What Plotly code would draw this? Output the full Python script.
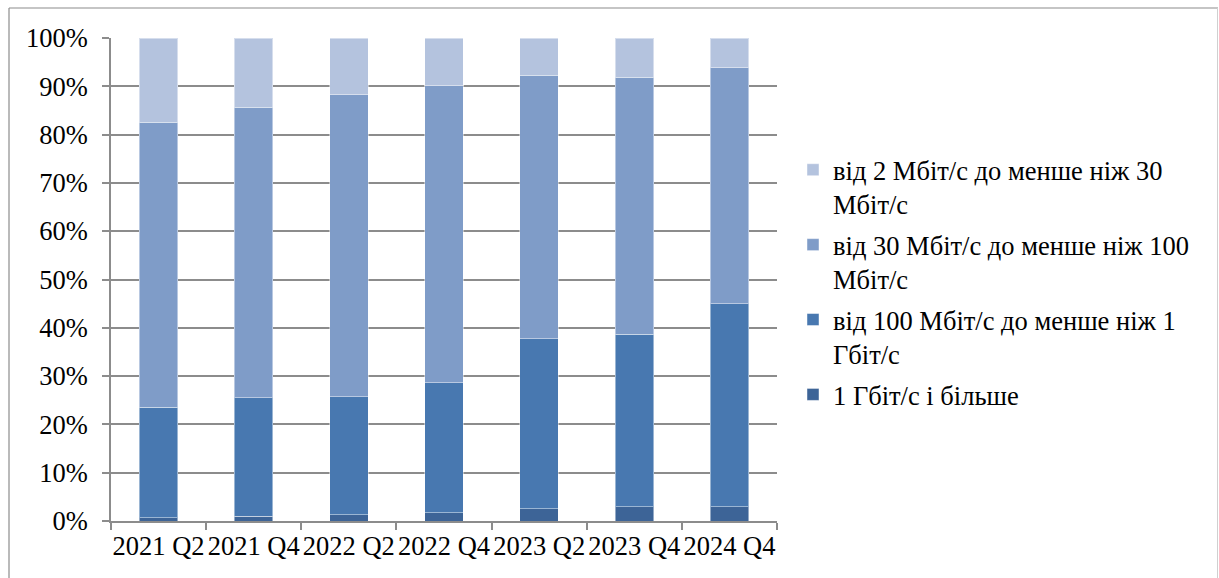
import plotly.graph_objects as go

categories = ["2021 Q2", "2021 Q4", "2022 Q2", "2022 Q4", "2023 Q2", "2023 Q4", "2024 Q4"]
gbit_1_plus = [0.7, 1.0, 1.3, 1.7, 2.5, 2.9, 2.9]
mbit_100_to_1g = [22.9, 24.5, 24.4, 26.9, 35.2, 35.8, 42.1]
mbit_30_to_100 = [59.0, 60.2, 62.5, 61.5, 54.6, 53.2, 48.8]
mbit_2_to_30 = [17.4, 14.3, 11.8, 9.9, 7.7, 8.1, 6.2]

names = [
    "1 Гбіт/с і більше",
    "від 100 Мбіт/с до менше ніж 1<br>Гбіт/с",
    "від 30 Мбіт/с до менше ніж 100<br>Мбіт/с",
    "від 2 Мбіт/с до менше ніж 30<br>Мбіт/с",
]
series = [gbit_1_plus, mbit_100_to_1g, mbit_30_to_100, mbit_2_to_30]
colors = ["#3D6497", "#4878B0", "#7F9CC8", "#B4C3DE"]

FONT = "Liberation Serif"
FS = 26.5
W, H = 1219, 578
ML, MR, MT, MB = 111, 1219 - 777, 38, 578 - 521

fig = go.Figure()
for i, (nm, vals, col) in enumerate(zip(names, series, colors)):
    fig.add_trace(go.Bar(
        x=categories, y=vals, name=nm, legendgroup=f"g{i}", legendrank=1000 - i,
        marker=dict(color=col, line=dict(color="rgba(255,255,255,0.45)", width=1)),
    ))

pw = W - ML - MR
ph = H - MT - MB
def px_x(p):
    return (p - ML) / pw
def px_y(p):
    return (H - MB - p) / ph

# outer frame: left and top darker, right faint
fig.add_shape(type="line", xref="paper", yref="paper",
              x0=px_x(9), x1=px_x(9), y0=px_y(580), y1=px_y(8),
              line=dict(color="#8C8C8C", width=1.2), layer="below")
fig.add_shape(type="line", xref="paper", yref="paper",
              x0=px_x(9), x1=px_x(1218), y0=px_y(8), y1=px_y(8),
              line=dict(color="#8C8C8C", width=1.2), layer="below")
fig.add_shape(type="line", xref="paper", yref="paper",
              x0=px_x(1217.5), x1=px_x(1217.5), y0=px_y(580), y1=px_y(8),
              line=dict(color="#D0D0D0", width=1), layer="below")

fig.update_layout(
    width=W, height=H,
    barmode="stack", bargap=0.595,
    margin=dict(l=ML, r=MR, t=MT, b=MB),
    paper_bgcolor="white", plot_bgcolor="white",
    font=dict(family=FONT, size=FS, color="black"),
    showlegend=True,
    legend=dict(
        traceorder="grouped", x=px_x(793), y=px_y(146), xanchor="left", yanchor="top",
        valign="top", font=dict(family=FONT, size=FS, color="black"),
        tracegroupgap=3, bgcolor="rgba(0,0,0,0)",
    ),
    xaxis=dict(
        type="category", tickson="boundaries", ticks="outside", ticklen=7,
        tickcolor="#8C8C8C", tickwidth=1.5, showline=True, linecolor="#8C8C8C", linewidth=1.5,
        tickangle=0, showgrid=False, tickfont=dict(family=FONT, size=FS),
    ),
    yaxis=dict(
        range=[0, 100], tickvals=[0, 10, 20, 30, 40, 50, 60, 70, 80, 90, 100],
        ticktext=[f"{v}%" for v in range(0, 101, 10)],
        ticks="outside", ticklen=7, tickcolor="#8C8C8C", tickwidth=1.5,
        showline=True, linecolor="#8C8C8C", linewidth=1.5,
        showgrid=True, gridcolor="#8C8C8C", gridwidth=1.5, zeroline=False,
        ticklabelstandoff=9, tickfont=dict(family=FONT, size=FS),
    ),
)

fig.write_html("out.html")
